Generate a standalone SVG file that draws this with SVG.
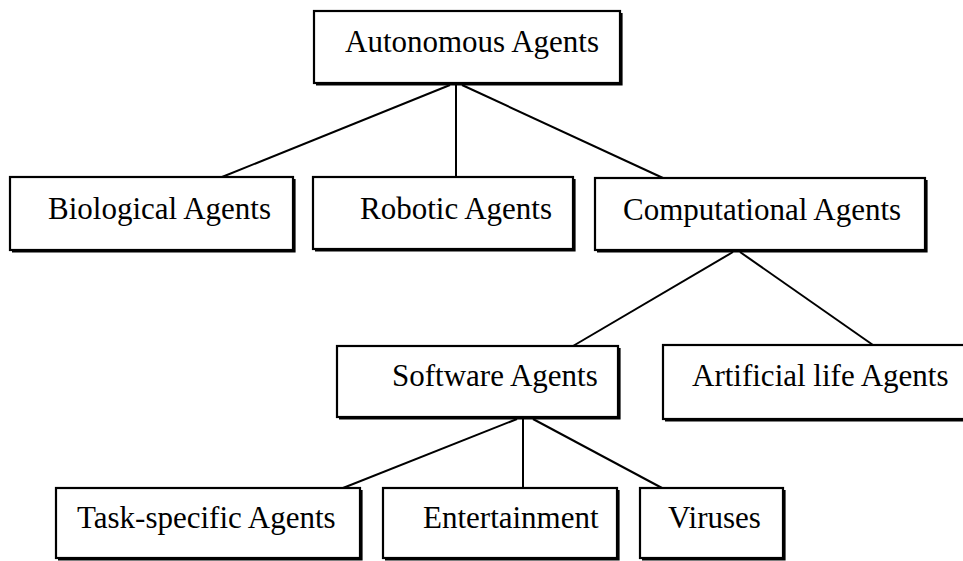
<svg xmlns="http://www.w3.org/2000/svg" width="963" height="561" viewBox="0 0 963 561">
  <style>
    .box { fill: #ffffff; stroke: #000000; stroke-width: 2.2; }
    .edge { fill: none; stroke: #000000; stroke-width: 3.2; }
    .label { font-family: "Liberation Serif", "Times New Roman", serif; font-size: 31px; fill: #000000; }
    .link { stroke: #000000; stroke-width: 2; fill: none; }
  </style>
  <rect width="963" height="561" fill="#ffffff"/>

  <g id="connectors">
    <line class="link" x1="450" y1="85" x2="222" y2="177"/>
    <line class="link" x1="456" y1="85" x2="456" y2="177"/>
    <line class="link" x1="462" y1="85" x2="663" y2="178"/>
    <line class="link" x1="733" y1="252" x2="573" y2="346"/>
    <line class="link" x1="740" y1="252" x2="873" y2="345"/>
    <line class="link" x1="517" y1="419" x2="343" y2="488"/>
    <line class="link" x1="523" y1="419" x2="523" y2="488"/>
    <line class="link" x1="533" y1="419" x2="662" y2="488"/>
  </g>

  <g id="autonomous-agents">
    <rect class="box" x="314" y="11" width="306" height="72"/>
    <polyline class="edge" points="316,84 621,84 621,13"/>
    <text class="label" x="345" y="52">Autonomous Agents</text>
  </g>

  <g id="biological-agents">
    <rect class="box" x="10" y="177" width="283" height="73"/>
    <polyline class="edge" points="12,251 294,251 294,179"/>
    <text class="label" x="48" y="219">Biological Agents</text>
  </g>

  <g id="robotic-agents">
    <rect class="box" x="313" y="177" width="260" height="72"/>
    <polyline class="edge" points="315,250 574,250 574,179"/>
    <text class="label" x="360" y="219">Robotic Agents</text>
  </g>

  <g id="computational-agents">
    <rect class="box" x="595" y="178" width="330" height="72"/>
    <polyline class="edge" points="597,251 926,251 926,180"/>
    <text class="label" x="623" y="220">Computational Agents</text>
  </g>

  <g id="software-agents">
    <rect class="box" x="337" y="346" width="281" height="71"/>
    <polyline class="edge" points="339,418 619,418 619,348"/>
    <text class="label" x="392" y="386">Software Agents</text>
  </g>

  <g id="artificial-life-agents">
    <rect class="box" x="663" y="345" width="312" height="74"/>
    <polyline class="edge" points="665,420 975,420"/>
    <text class="label" x="692" y="386">Artificial life Agents</text>
  </g>

  <g id="task-specific-agents">
    <rect class="box" x="56" y="488" width="304" height="70"/>
    <polyline class="edge" points="58,559 361,559 361,490"/>
    <text class="label" x="77" y="528">Task-specific Agents</text>
  </g>

  <g id="entertainment">
    <rect class="box" x="383" y="488" width="234" height="70"/>
    <polyline class="edge" points="385,559 618,559 618,490"/>
    <text class="label" x="423" y="528">Entertainment</text>
  </g>

  <g id="viruses">
    <rect class="box" x="640" y="488" width="143" height="70"/>
    <polyline class="edge" points="642,559 784,559 784,490"/>
    <text class="label" x="668" y="528">Viruses</text>
  </g>
</svg>
